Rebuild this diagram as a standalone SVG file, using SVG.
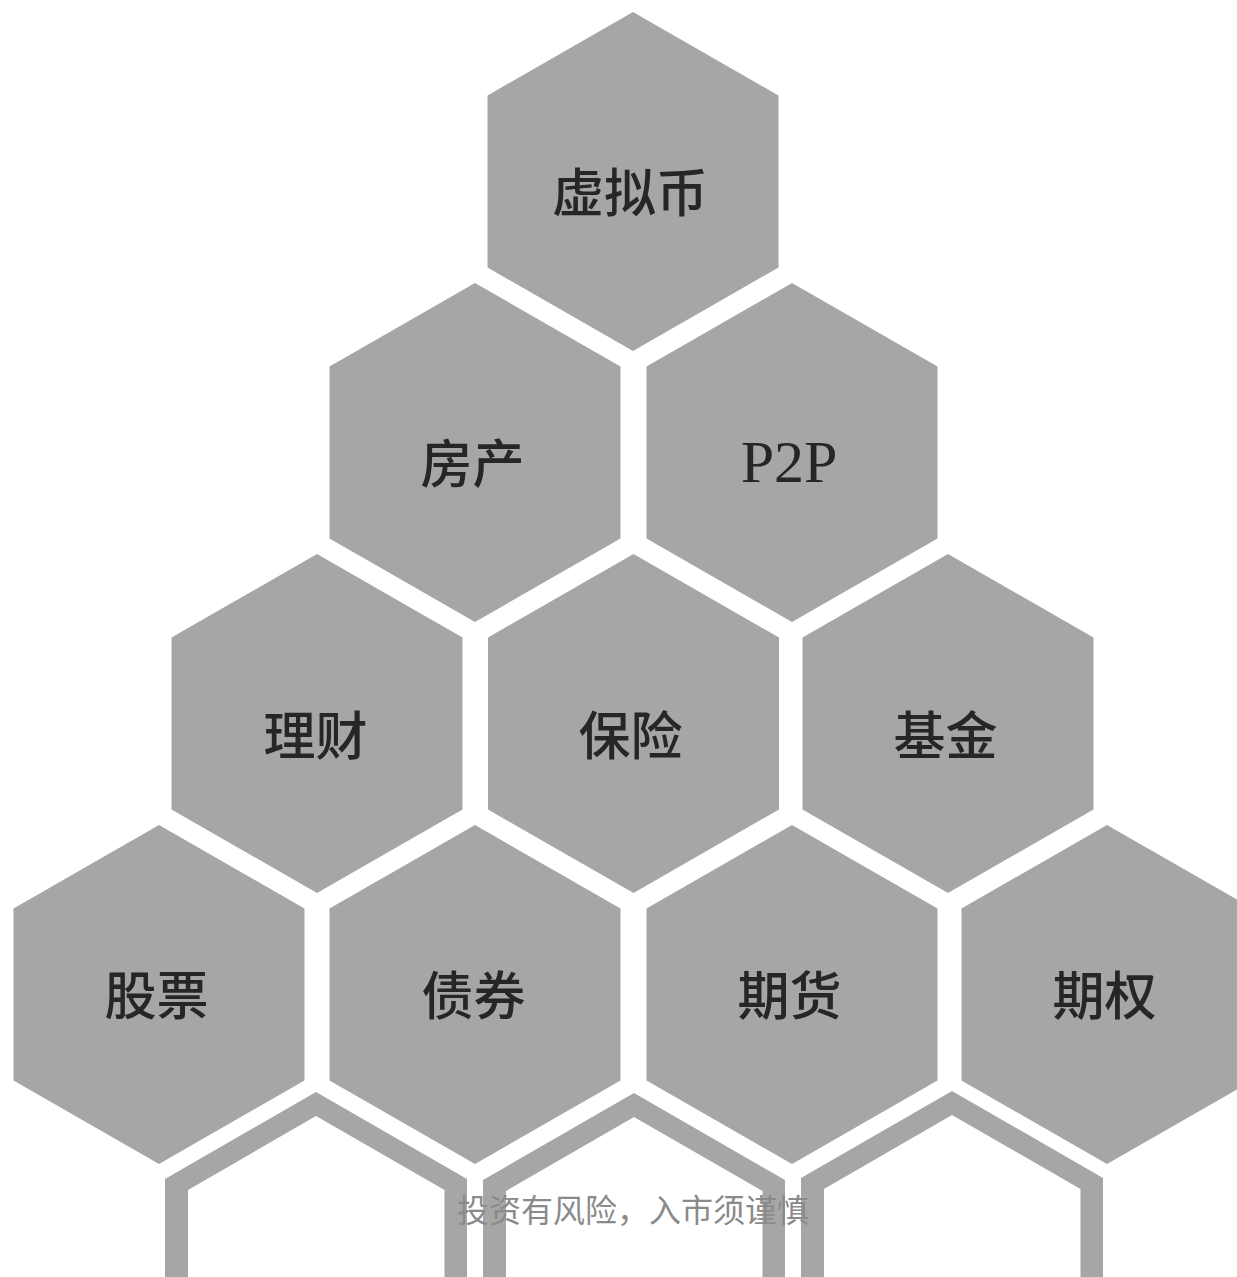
<svg xmlns="http://www.w3.org/2000/svg" xmlns:xlink="http://www.w3.org/1999/xlink" width="1237" height="1277" viewBox="0 0 1237 1277">
  <defs>
    <polygon id="hex" points="0,-169.5 145.5,-86 145.5,86 0,169.5 -145.5,86 -145.5,-86"/>
  </defs>
  <style>
    .hex { fill: #a6a6a6; }
    .frame { fill: #a6a6a6; fill-rule: evenodd; }
    .lbl { font-family: "Noto Sans CJK SC", "Noto Sans", sans-serif; font-size: 52px; fill: #262626; text-anchor: middle; font-weight: 500; }
    .lat { font-family: "Liberation Serif", "Times New Roman", serif; font-size: 60px; fill: #262626; text-anchor: middle; }
    .note { font-family: "Noto Sans CJK SC", "Noto Sans", sans-serif; font-size: 32px; fill: #8a8a8a; text-anchor: middle; }
  </style>
  <rect width="1237" height="1277" fill="#ffffff"/>

  <g id="frames">
    <path class="frame" d="M316,1092 L467,1179 L467,1300 L165,1300 L165,1179 Z M316,1116 L444.5,1190 L444.5,1300 L188,1300 L188,1190 Z"/>
    <path class="frame" d="M634,1093 L785,1180 L785,1300 L483,1300 L483,1180 Z M634,1117 L762.5,1191 L762.5,1300 L506,1300 L506,1191 Z"/>
    <path class="frame" d="M952,1091 L1103,1178 L1103,1300 L801,1300 L801,1178 Z M952,1115 L1080.5,1189 L1080.5,1300 L824,1300 L824,1189 Z"/>
  </g>

  <g id="node-xunibi">
    <use xlink:href="#hex" href="#hex" class="hex" x="633" y="181.5"/>
    <text class="lbl" x="630" y="212">虚拟币</text>
  </g>
  <g id="node-fangchan">
    <use xlink:href="#hex" href="#hex" class="hex" x="475" y="452.5"/>
    <text class="lbl" x="472.5" y="483">房产</text>
  </g>
  <g id="node-p2p">
    <use xlink:href="#hex" href="#hex" class="hex" x="792" y="452.5"/>
    <text class="lat" x="789" y="482">P2P</text>
  </g>
  <g id="node-licai">
    <use xlink:href="#hex" href="#hex" class="hex" x="317" y="723.5"/>
    <text class="lbl" x="315.5" y="755">理财</text>
  </g>
  <g id="node-baoxian">
    <use xlink:href="#hex" href="#hex" class="hex" x="633.5" y="723.5"/>
    <text class="lbl" x="630.5" y="755">保险</text>
  </g>
  <g id="node-jijin">
    <use xlink:href="#hex" href="#hex" class="hex" x="948" y="723.5"/>
    <text class="lbl" x="945.5" y="755">基金</text>
  </g>
  <g id="node-gupiao">
    <use xlink:href="#hex" href="#hex" class="hex" x="159" y="994.5"/>
    <text class="lbl" x="156.5" y="1015">股票</text>
  </g>
  <g id="node-zhaiquan">
    <use xlink:href="#hex" href="#hex" class="hex" x="475" y="994.5"/>
    <text class="lbl" x="473.5" y="1015">债券</text>
  </g>
  <g id="node-qihuo">
    <use xlink:href="#hex" href="#hex" class="hex" x="792" y="994.5"/>
    <text class="lbl" x="789.5" y="1015">期货</text>
  </g>
  <g id="node-qiquan">
    <use xlink:href="#hex" href="#hex" class="hex" x="1107" y="994.5"/>
    <text class="lbl" x="1104.5" y="1015">期权</text>
  </g>

  <g id="note">
    <text class="note" x="633" y="1222">投资有风险，入市须谨慎</text>
  </g>
</svg>
